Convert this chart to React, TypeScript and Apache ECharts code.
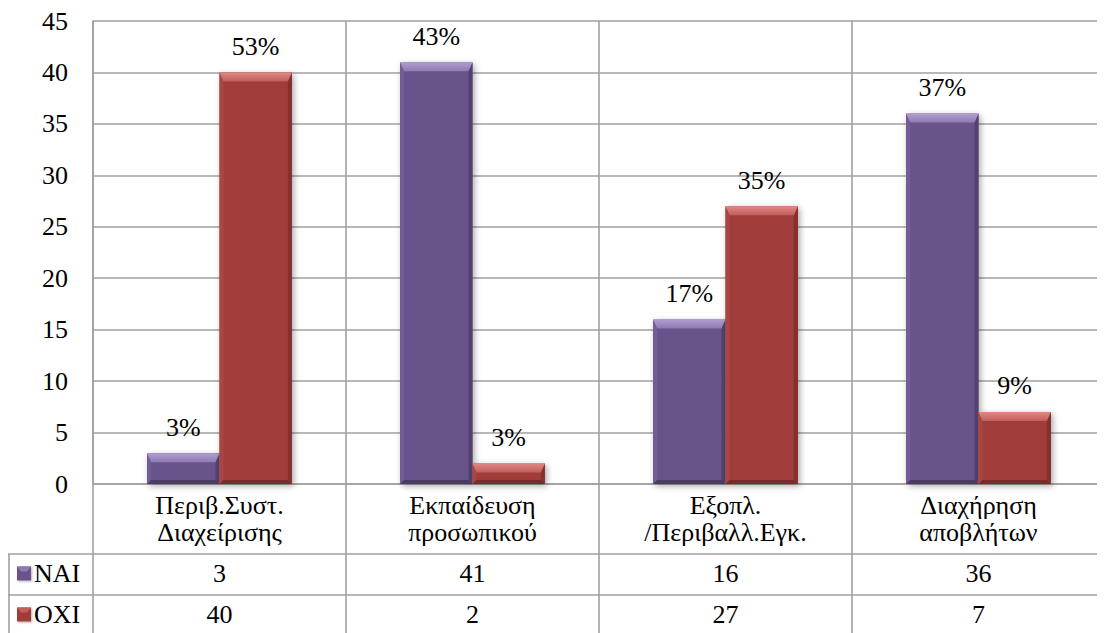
import React, { useEffect, useRef } from 'react';
import * as echarts from 'echarts';

// Survey answers per topic
const categories = [
  'Περιβ.Συστ.\nΔιαχείρισης',
  'Εκπαίδευση\nπροσωπικού',
  'Εξοπλ.\n/Περιβαλλ.Εγκ.',
  'Διαχήρηση\nαποβλήτων',
];
const seriesNames = ['ΝΑΙ', 'ΟΧΙ'];
const naiValues = [3, 41, 16, 36];
const oxiValues = [40, 2, 27, 7];
const naiPercentLabels = ['3%', '43%', '17%', '37%'];
const oxiPercentLabels = ['53%', '3%', '35%', '9%'];
const yMin = 0;
const yMax = 45;
const yStep = 5;

const FONT = 'Liberation Serif';
const FONT_SIZE = 26;
const LINE_COLOR = '#a0a0a0';
const LINE_WIDTH = 1.6;

const palettes = [
  { face: '#67528B', topHi: '#B19FD0', topLo: '#8F7AB4', left: '#715D97', right: '#53426F', bottom: '#4A3B64' },
  { face: '#A03D3B', topHi: '#E08886', topLo: '#C25E5C', left: '#A94644', right: '#84302F', bottom: '#772B2A' },
];

const barShare = 0.286;

// Bevelled bar with its percentage label above it
function makeRenderItem(s: number, labels: string[]) {
  return (params: any, api: any) => {
    const ci = api.value(0) as number;
    const v = api.value(1) as number;
    const base = api.coord([ci, 0]);
    const top = api.coord([ci, v]);
    const band = api.size([1, 0])[0];
    const bw = band * barShare;
    const x0 = s === 0 ? base[0] - bw : base[0];
    const x1 = x0 + bw;
    const y0 = top[1];
    const y1 = base[1];
    const h = y1 - y0;
    const bt = Math.min(9, h / 2);
    const bs = Math.min(4, bw / 2);
    const bb = Math.min(4, h / 2);
    const p = palettes[s];
    return {
      type: 'group',
      children: [
        {
          type: 'rect',
          shape: { x: x0, y: y0, width: bw, height: h },
          style: {
            fill: p.face,
            shadowBlur: 6,
            shadowOffsetX: 2,
            shadowOffsetY: 2,
            shadowColor: 'rgba(0,0,0,0.35)',
          },
        },
        {
          type: 'polygon',
          shape: { points: [[x0, y0], [x0 + bs, y0 + bt], [x0 + bs, y1 - bb], [x0, y1]] },
          style: { fill: p.left },
        },
        {
          type: 'polygon',
          shape: { points: [[x1, y0], [x1 - bs, y0 + bt], [x1 - bs, y1 - bb], [x1, y1]] },
          style: { fill: p.right },
        },
        {
          type: 'polygon',
          shape: { points: [[x0, y1], [x0 + bs, y1 - bb], [x1 - bs, y1 - bb], [x1, y1]] },
          style: { fill: p.bottom },
        },
        {
          type: 'polygon',
          shape: { points: [[x0, y0], [x1, y0], [x1 - bs, y0 + bt], [x0 + bs, y0 + bt]] },
          style: {
            fill: new echarts.graphic.LinearGradient(0, 0, 0, 1, [
              { offset: 0, color: p.topHi },
              { offset: 1, color: p.topLo },
            ]),
          },
        },
        {
          type: 'text',
          style: {
            text: labels[params.dataIndex],
            x: (x0 + x1) / 2,
            y: y0 - 26,
            align: 'center',
            verticalAlign: 'middle',
            fill: '#000',
            fontSize: FONT_SIZE,
            fontFamily: FONT,
          },
        },
      ],
    };
  };
}

export default function App() {
  const ref = useRef<HTMLDivElement>(null);

  useEffect(() => {
    if (!ref.current) return;
    const chart = echarts.init(ref.current, undefined, { renderer: 'svg' });

    chart.setOption({
      animation: false,
      backgroundColor: '#fff',
      textStyle: { fontFamily: FONT },
      grid: { left: 85, right: -3, top: 8, bottom: 149, containLabel: false },
      xAxis: {
        type: 'category',
        data: categories,
        axisLine: { show: true, lineStyle: { color: LINE_COLOR, width: LINE_WIDTH } },
        axisTick: { show: false },
        splitLine: { show: true, lineStyle: { color: LINE_COLOR, width: LINE_WIDTH } },
        axisLabel: {
          interval: 0,
          margin: 8,
          color: '#000',
          fontSize: FONT_SIZE,
          lineHeight: 27,
          fontFamily: FONT,
        },
      },
      yAxis: {
        type: 'value',
        min: yMin,
        max: yMax,
        interval: yStep,
        axisLine: { show: true, lineStyle: { color: LINE_COLOR, width: LINE_WIDTH } },
        axisTick: { show: false },
        splitLine: { show: true, lineStyle: { color: LINE_COLOR, width: LINE_WIDTH } },
        axisLabel: { margin: 25, color: '#000', fontSize: FONT_SIZE, fontFamily: FONT },
      },
      series: [
        {
          name: seriesNames[0],
          type: 'custom',
          renderItem: makeRenderItem(0, naiPercentLabels),
          encode: { x: 0, y: 1 },
          data: naiValues.map((v, i) => [i, v]),
          z: 3,
        },
        {
          name: seriesNames[1],
          type: 'custom',
          renderItem: makeRenderItem(1, oxiPercentLabels),
          encode: { x: 0, y: 1 },
          data: oxiValues.map((v, i) => [i, v]),
          z: 4,
        },
      ],
    });

    // Data table under the category axis
    const centers = categories.map((_, i) => chart.convertToPixel({ xAxisIndex: 0 }, i) as number);
    const band = centers[1] - centers[0];
    const axisY = chart.convertToPixel({ yAxisIndex: 0 }, 0) as number;
    const chartW = chart.getWidth();
    const chartH = chart.getHeight();
    const rowTop = axisY + 70;
    const rowH = 41;
    const lineStyle = { stroke: LINE_COLOR, lineWidth: LINE_WIDTH };

    const graphics: any[] = [];
    const boundaries = [centers[0] - band / 2, ...centers.map((c) => c + band / 2)];
    boundaries.forEach((bx) => {
      graphics.push({ type: 'line', shape: { x1: bx, y1: axisY, x2: bx, y2: chartH }, style: lineStyle });
    });
    graphics.push({ type: 'line', shape: { x1: 1, y1: rowTop, x2: 1, y2: chartH }, style: lineStyle });
    [rowTop, rowTop + rowH].forEach((ly) => {
      graphics.push({ type: 'line', shape: { x1: 0, y1: ly, x2: chartW, y2: ly }, style: lineStyle });
    });

    const rows = [naiValues, oxiValues];
    rows.forEach((vals, r) => {
      const cy = rowTop + rowH * r + rowH / 2 - 1;
      const p = palettes[r];
      graphics.push({
        type: 'rect',
        shape: { x: 9, y: cy - 7, width: 14, height: 14 },
        style: {
          fill: p.face,
          shadowBlur: 2,
          shadowOffsetX: 1,
          shadowOffsetY: 1,
          shadowColor: 'rgba(0,0,0,0.3)',
        },
      });
      graphics.push({
        type: 'polygon',
        shape: { points: [[9, cy - 7], [23, cy - 7], [19, cy - 2], [13, cy - 2]] },
        style: { fill: p.topLo },
      });
      graphics.push({
        type: 'text',
        style: {
          text: seriesNames[r],
          x: 26,
          y: cy,
          align: 'left',
          verticalAlign: 'middle',
          fill: '#000',
          fontSize: FONT_SIZE,
          fontFamily: FONT,
        },
      });
      vals.forEach((v, i) => {
        graphics.push({
          type: 'text',
          style: {
            text: String(v),
            x: centers[i],
            y: cy,
            align: 'center',
            verticalAlign: 'middle',
            fill: '#000',
            fontSize: FONT_SIZE,
            fontFamily: FONT,
          },
        });
      });
    });

    chart.setOption({ graphic: graphics });

    return () => chart.dispose();
  }, []);

  return <div ref={ref} style={{ width: 1097, height: 625 }} />;
}
